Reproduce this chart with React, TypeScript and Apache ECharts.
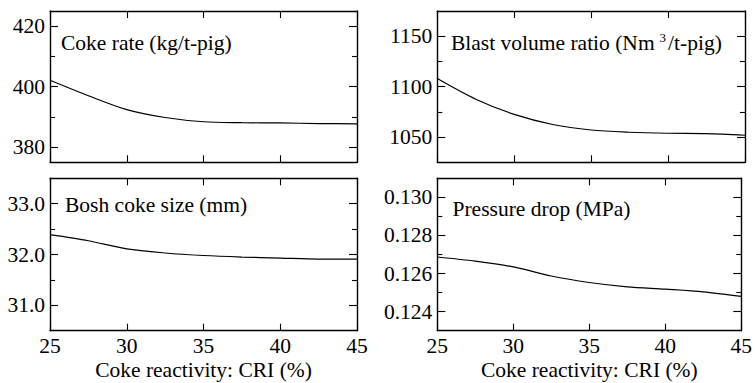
import React, { useEffect, useRef } from "react";
import * as echarts from "echarts";

const CRI = [25, 27.5, 30, 32.5, 35, 37.5, 40, 42.5, 45];
const cokeRate = [402.1, 397.0, 392.4, 389.8, 388.4, 388.1, 388.0, 387.8, 387.7];
const blastVolume = [1108, 1087.5, 1072.5, 1062.5, 1057, 1054.8, 1053.8, 1053.4, 1051.8];
const boshSize = [32.39, 32.27, 32.11, 32.03, 31.98, 31.95, 31.93, 31.91, 31.91];
const pressureDrop = [0.12687, 0.12665, 0.12635, 0.12587, 0.12553, 0.1253, 0.12518, 0.12504, 0.1248];

const xTicks = [25, 30, 35, 40, 45];
const cokeTicks = [380, 400, 420];
const cokeMinor = [390, 410];
const blastTicks = [1050, 1100, 1150];
const blastMinor = [1075, 1125];
const boshTicks = [31, 32, 33];
const boshMinor = [31.5, 32.5];
const pressTicks = [0.124, 0.126, 0.128, 0.13];
const pressMinor = [0.125, 0.127, 0.129];

const X_TITLE = "Coke reactivity: CRI (%)";
const FONT = "Liberation Serif";

export default function App() {
  const ref = useRef<HTMLDivElement>(null);
  useEffect(() => {
    const chart = echarts.init(ref.current!, null, { renderer: "svg" });
    const panels = [
      { left: 50, top: 11, width: 307, height: 151.3, min: 375, max: 425, major: cokeTicks, minor: cokeMinor, fmt: (v: number) => String(v), data: cokeRate, showX: false },
      { left: 437.3, top: 11, width: 307.7, height: 151.3, min: 1025, max: 1175, major: blastTicks, minor: blastMinor, fmt: (v: number) => String(v), data: blastVolume, showX: false },
      { left: 50, top: 178.3, width: 307, height: 152.4, min: 30.5, max: 33.5, major: boshTicks, minor: boshMinor, fmt: (v: number) => v.toFixed(1), data: boshSize, showX: true },
      { left: 437.3, top: 178.3, width: 307.7, height: 152.4, min: 0.123, max: 0.131, major: pressTicks, minor: pressMinor, fmt: (v: number) => v.toFixed(3), data: pressureDrop, showX: true },
    ];
    const grid: any[] = [];
    const xAxis: any[] = [];
    const yAxis: any[] = [];
    const series: any[] = [];
    const frame = { color: "#000", width: 1.4 };
    const tickStyle = { color: "#000", width: 1.1 };
    const labelStyle = { color: "#000", fontFamily: FONT, fontSize: 21.5 };
    panels.forEach((p, i) => {
      grid.push({ left: p.left, top: p.top, width: p.width, height: p.height });
      ["bottom", "top"].forEach((pos) => {
        xAxis.push({
          type: "value", gridIndex: i, min: xTicks[0], max: xTicks[xTicks.length - 1], interval: 5, position: pos,
          axisLine: { show: true, onZero: false, lineStyle: frame },
          axisTick: { show: true, inside: true, length: 7, lineStyle: tickStyle },
          axisLabel: { show: pos === "bottom" && p.showX, margin: 4, ...labelStyle },
          splitLine: { show: false },
          name: pos === "bottom" && p.showX ? X_TITLE : "",
          nameLocation: "middle", nameGap: 28,
          nameTextStyle: { ...labelStyle },
        });
      });
      ["left", "right"].forEach((pos) => {
        yAxis.push({
          type: "value", gridIndex: i, min: p.min, max: p.max, position: pos,
          axisLine: { show: true, onZero: false, lineStyle: frame },
          axisTick: { show: true, inside: true, length: 8, lineStyle: tickStyle, customValues: p.major },
          axisLabel: { show: pos === "left", margin: 5, formatter: p.fmt, customValues: p.major, ...labelStyle },
          splitLine: { show: false },
        });
        yAxis.push({
          type: "value", gridIndex: i, min: p.min, max: p.max, position: pos,
          axisLine: { show: false },
          axisTick: { show: true, inside: true, length: 5, lineStyle: tickStyle, customValues: p.minor },
          axisLabel: { show: false },
          splitLine: { show: false },
        });
      });
      series.push({
        type: "line", xAxisIndex: 2 * i, yAxisIndex: 4 * i,
        data: CRI.map((x, k) => [x, p.data[k]]),
        showSymbol: false, smooth: 0.3, silent: true,
        lineStyle: { color: "#000", width: 1.2 },
      });
    });
    const txt = (x: number, y: number, text: string) => ({
      type: "text", x, y, silent: true,
      style: { text, fontFamily: FONT, fontSize: 21.5, fill: "#000", verticalAlign: "middle", align: "left" },
    });
    chart.setOption({
      animation: false,
      backgroundColor: "#fff",
      grid, xAxis, yAxis, series,
      graphic: [
        txt(61, 42.5, "Coke rate (kg/t-pig)"),
        {
          type: "text", x: 451, y: 42.5, silent: true,
          style: {
            text: "{a|Blast volume ratio (Nm}{s|3}{a|/t-pig)}",
            fill: "#000", verticalAlign: "middle", align: "left",
            fontFamily: FONT, fontSize: 21.5,
            rich: {
              a: { fontFamily: FONT, fontSize: 21.5, fill: "#000", color: "#000" },
              s: { fontFamily: FONT, fontSize: 13, fill: "#000", color: "#000", padding: [0, 2, 11, 5] },
            },
          },
        },
        txt(65, 204.5, "Bosh coke size (mm)"),
        txt(452.5, 208.5, "Pressure drop (MPa)"),
      ],
    });
    return () => chart.dispose();
  }, []);
  return <div ref={ref} style={{ position: "fixed", left: 0, top: 0, width: 755, height: 383, background: "#fff" }} />;
}
